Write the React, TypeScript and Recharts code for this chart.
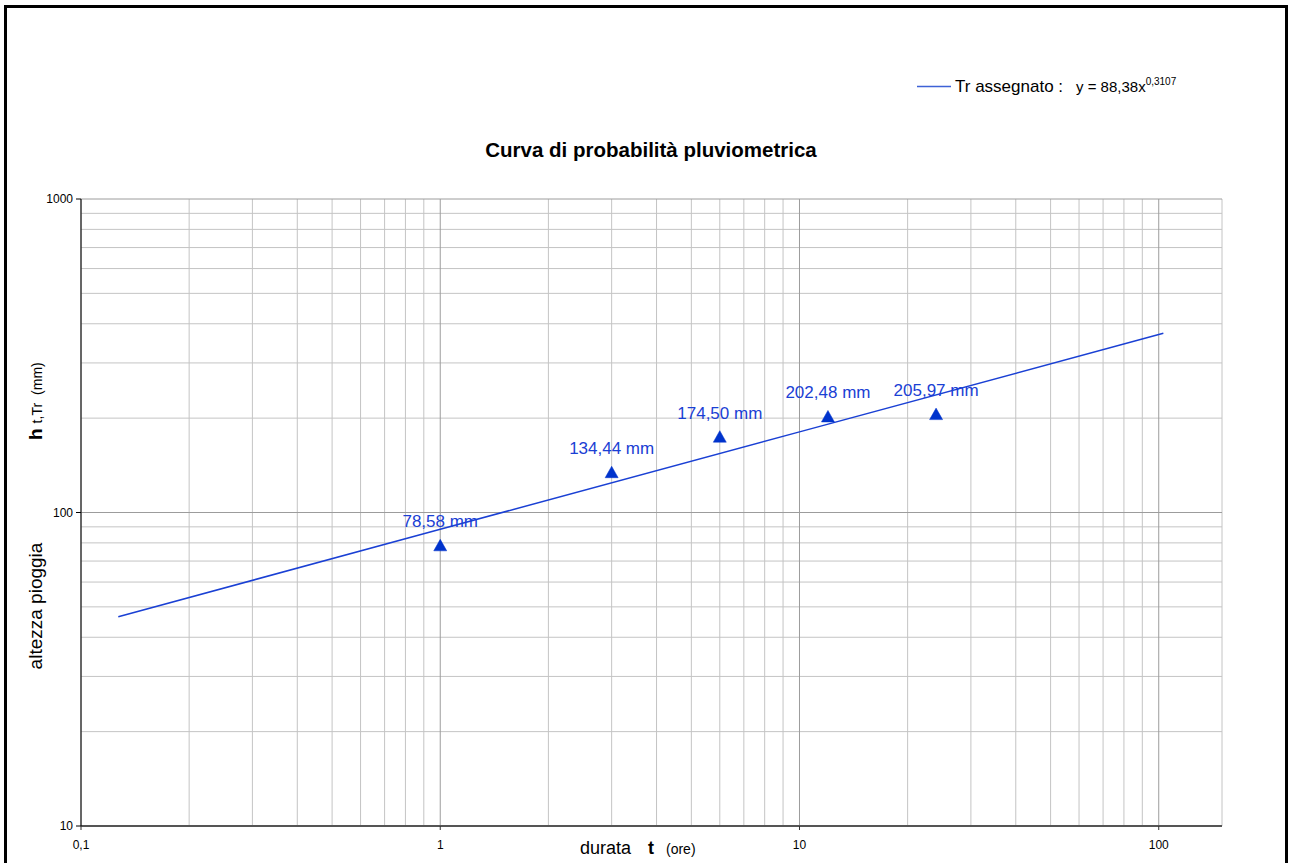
import React from 'react';
import { ComposedChart, XAxis, YAxis, CartesianGrid, Line, Scatter } from 'recharts';

// Observed rainfall heights (mm) for each duration (hours)
const durations = [1, 3, 6, 12, 24];
const heights = [78.58, 134.44, 174.5, 202.48, 205.97];

// Points (Tr assegnato)
const curveT = [0.127, 1, 10, 103];
const curveH = [46.5, 88.38, 180.8, 373];

// Axis ticks
const xMajorTicks = [0.1, 1, 10, 100];
const xMinorTicks = [0.2, 0.3, 0.4, 0.5, 0.6, 0.7, 0.8, 0.9, 2, 3, 4, 5, 6, 7, 8, 9, 20, 30, 40, 50, 60, 70, 80, 90, 150];
const xTickLabels = ['0,1', '1', '10', '100'];
const yMajorTicks = [10, 100, 1000];
const yMinorTicks = [20, 30, 40, 50, 60, 70, 80, 90, 200, 300, 400, 500, 600, 700, 800, 900];
const yTickLabels = ['10', '100', '1000'];

const xDomain = [0.1, 150];
const yDomain = [10, 1000];

const pointData = durations.map((t, i) => ({ t, h: heights[i] }));
const curveData = curveT.map((t, i) => ({ t, h: curveH[i] }));

const FONT = '"Liberation Sans", Arial, sans-serif';
const BLUE = '#1a40d4';
const MARKER = '#0033cc';

const fmt = (v: number) => v.toFixed(2).replace('.', ',');

const XTick = (props: any) => {
  const { x, y, payload } = props;
  const idx = xMajorTicks.indexOf(payload.value);
  return (
    <g>
      <line x1={x} x2={x} y1={y} y2={y + 4} stroke="#333" strokeWidth={1} />
      <text x={x} y={y + 23} textAnchor="middle" fontSize={12} fontFamily={FONT} fill="#000">
        {idx >= 0 ? xTickLabels[idx] : ''}
      </text>
    </g>
  );
};

const YTick = (props: any) => {
  const { x, y, payload } = props;
  const idx = yMajorTicks.indexOf(payload.value);
  return (
    <g>
      <line x1={x - 5} x2={x} y1={y} y2={y} stroke="#000" strokeWidth={1} />
      <text x={x - 8} y={y + 4} textAnchor="end" fontSize={12} fontFamily={FONT} fill="#000">
        {idx >= 0 ? yTickLabels[idx] : ''}
      </text>
    </g>
  );
};

const TriangleShape = (props: any) => {
  const { cx, cy, payload } = props;
  if (cx == null || cy == null) return <g />;
  const pts = `${cx},${cy - 6} ${cx + 6.5},${cy + 5.5} ${cx - 6.5},${cy + 5.5}`;
  return (
    <g>
      <polygon points={pts} fill={MARKER} stroke={MARKER} strokeWidth={0.5} />
      <text x={cx} y={cy - 18} textAnchor="middle" fontSize={17} fontFamily={FONT} fill={BLUE}>
        {`${fmt(payload.h)} mm`}
      </text>
    </g>
  );
};

export default function App() {
  return (
    <div style={{ position: 'absolute', left: 0, top: 0, width: 1290, height: 863, overflow: 'hidden', background: '#fff' }}>
      <div
        style={{
          position: 'absolute',
          left: 4,
          top: 5,
          width: 1284,
          height: 900,
          border: '3px solid #000',
          boxSizing: 'border-box',
        }}
      />
      <div style={{ position: 'absolute', left: 0, top: 0 }}>
        <ComposedChart width={1290} height={863} margin={{ top: 199, right: 68, left: 21, bottom: 7 }}>
          <CartesianGrid
            stroke="#c4c4c4"
            strokeWidth={1}
            verticalValues={xMinorTicks}
            horizontalValues={yMinorTicks}
          />
          <CartesianGrid
            stroke="#9c9c9c"
            strokeWidth={1}
            verticalValues={xMajorTicks}
            horizontalValues={yMajorTicks}
          />
          <XAxis
            dataKey="t"
            type="number"
            scale="log"
            domain={xDomain}
            ticks={xMajorTicks}
            allowDataOverflow
            height={30}
            tickSize={0}
            tickMargin={0}
            tickLine={false}
            interval={0}
            axisLine={{ stroke: '#555', strokeWidth: 2 }}
            tick={<XTick />}
          />
          <YAxis
            dataKey="h"
            type="number"
            scale="log"
            domain={yDomain}
            ticks={yMajorTicks}
            allowDataOverflow
            width={60}
            tickSize={0}
            tickMargin={0}
            tickLine={false}
            interval={0}
            axisLine={{ stroke: '#000', strokeWidth: 1 }}
            tick={<YTick />}
          />
          <Line
            data={curveData}
            dataKey="h"
            type="linear"
            stroke={BLUE}
            strokeWidth={1.5}
            dot={false}
            activeDot={false}
            isAnimationActive={false}
          />
          <Scatter data={pointData} dataKey="h" shape={<TriangleShape />} isAnimationActive={false} />
        </ComposedChart>
      </div>
      <svg
        width={1290}
        height={863}
        style={{ position: 'absolute', left: 0, top: 0, pointerEvents: 'none' }}
        fontFamily={FONT}
      >
        <line x1={917} x2={951} y1={86.5} y2={86.5} stroke="#3d62d6" strokeWidth={1.5} />
        <text x={955} y={92} fontSize={17} fill="#000">Tr assegnato :</text>
        <text x={1076} y={92} fontSize={15} fill="#000">
          y = 88,38x
          <tspan fontSize={10} dy={-7}>0,3107</tspan>
        </text>
        <text x={651} y={157} textAnchor="middle" fontSize={20.5} fontWeight="bold" fill="#000">
          Curva di probabilità pluviometrica
        </text>
        <text y={854} fill="#000">
          <tspan x={580} fontSize={18}>durata</tspan>
          <tspan x={648} fontSize={18} fontWeight="bold">t</tspan>
          <tspan x={666} fontSize={14}>(ore)</tspan>
        </text>
        <g transform="translate(42, 606) rotate(-90)">
          <text x={0} y={0} textAnchor="middle" fontSize={19} fill="#000">altezza pioggia</text>
        </g>
        <g transform="translate(42, 440) rotate(-90)">
          <text x={0} y={0} fill="#000">
            <tspan fontSize={19} fontWeight="bold">h</tspan>
            <tspan fontSize={14} dx={5}>t,Tr</tspan>
            <tspan fontSize={14} dx={8}>(mm)</tspan>
          </text>
        </g>
      </svg>
    </div>
  );
}
